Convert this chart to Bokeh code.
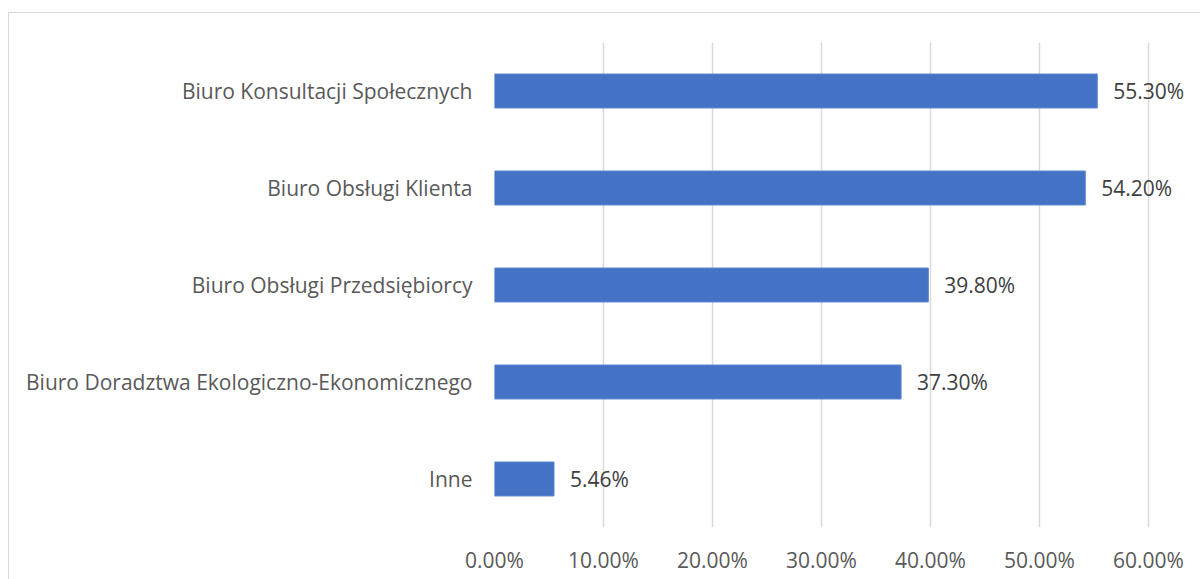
from bokeh.plotting import figure
from bokeh.layouts import column
from bokeh.models import ColumnDataSource, FixedTicker, PrintfTickFormatter, Range1d, FactorRange
from bokeh.core.properties import value
from bokeh.embed import file_html
from bokeh.resources import INLINE

categories = [
    "Biuro Konsultacji Społecznych",
    "Biuro Obsługi Klienta",
    "Biuro Obsługi Przedsiębiorcy",
    "Biuro Doradztwa Ekologiczno-Ekonomicznego",
    "Inne",
]
values = [55.30, 54.20, 39.80, 37.30, 5.46]
x_ticks = [0, 10, 20, 30, 40, 50, 60]

labels = [f"{v:.2f}%" for v in values]
src = ColumnDataSource(dict(cat=categories, val=values, lab=labels))

FONT = "Open Sans"
FS = "21px"

p = figure(width=1191, height=566, output_backend="svg", toolbar_location=None,
           y_range=FactorRange(*reversed(categories)), x_range=Range1d(0, 64.77),
           min_border_left=485, min_border_right=0, min_border_top=29, min_border_bottom=52)
p.outline_line_color = None
p.background_fill_color = "white"
p.border_fill_color = "white"

p.hbar(y="cat", right="val", height=0.35, source=src, fill_color="#4472C4", line_color="#5b86d1", line_width=1)
p.text(x="val", y="cat", text="lab", source=src, x_offset=16, text_baseline="middle", text_align="left",
       text_font=value(FONT), text_font_size=FS, text_color="#404040")

p.xaxis.ticker = FixedTicker(ticks=x_ticks)
p.xaxis.formatter = PrintfTickFormatter(format="%.2f%%")
for ax in (p.xaxis, p.yaxis):
    ax.axis_line_color = None
    ax.major_tick_line_color = None
    ax.minor_tick_line_color = None
    ax.major_label_text_font = FONT
    ax.major_label_text_font_size = FS
    ax.major_label_text_color = "#595959"
p.xaxis.major_label_standoff = 12
p.yaxis.major_label_standoff = 16

p.xgrid.ticker = FixedTicker(ticks=x_ticks)
p.xgrid.grid_line_color = "#d9d9d9"
p.xgrid.grid_line_width = 1.5
p.ygrid.grid_line_color = None

lay = column(p, margin=(12, 0, 0, 8),
             styles={"border-left": "1px solid #d9d9d9", "border-top": "1px solid #d9d9d9"})

open("out.html", "w").write(file_html(lay, INLINE))
